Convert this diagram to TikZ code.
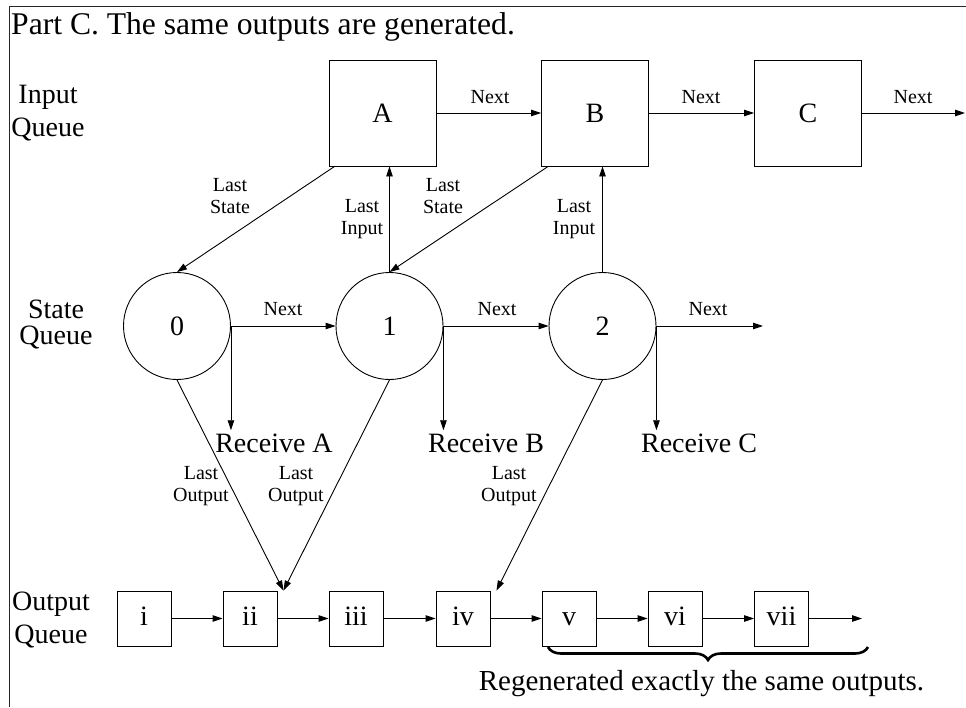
\documentclass[tikz,border=0pt]{standalone}
\usepackage{fontspec}
\setmainfont{Liberation Serif}
\usetikzlibrary{arrows.meta,calc,decorations.pathreplacing}

\begin{document}
\begin{tikzpicture}[x=1pt,y=-1pt,
  big/.style={font=\fontsize{28}{33}\selectfont},
  lbl/.style={font=\fontsize{20}{22}\selectfont, align=center, inner sep=0pt},
  qlabel/.style={align=center, inner sep=0pt},
  inbox/.style={draw, line width=0.9pt, minimum width=107pt, minimum height=106pt, inner sep=0pt, big},
  statenode/.style={draw, circle, line width=0.9pt, minimum size=107pt, inner sep=0pt, big},
  outbox/.style={draw, line width=0.9pt, minimum width=54pt, minimum height=55pt, inner sep=0pt, big, text height=13pt, text depth=0pt},
  recv/.style={big, inner sep=3pt, anchor=base},
  link/.style={line width=0.9pt, -{Triangle[length=10pt,width=6.5pt]}},
  plainline/.style={line width=0.9pt}
]
\useasboundingbox (0,0) rectangle (966,707);

% frame edges
\draw[line width=0.8pt, black!85] (9,707) -- (9,6) -- (966,6);

% title
\node[font=\fontsize{31.6}{36}\selectfont, anchor=base west, inner sep=0pt] (title) at (11,34) {Part C. The same outputs are generated.};

% row labels
\node[qlabel, font=\fontsize{28}{33}\selectfont] (lin) at (48,113) {Input\\Queue};
\node[qlabel, font=\fontsize{28}{26}\selectfont] (lst) at (56,324) {State\\Queue};
\node[qlabel, font=\fontsize{28}{33}\selectfont] (lout) at (51,620) {Output\\Queue};

% input queue
\node[inbox] (A) at (382.5,113) {A};
\node[inbox] (B) at (595,113) {B};
\node[inbox] (C) at (808,113) {C};
\coordinate (Cend) at (965,113);

\draw[link] (A) -- (B);
\draw[link] (B) -- (C);
\draw[link] (C) -- (Cend);
\node[lbl, anchor=base] (nAB) at (490,103) {Next};
\node[lbl, anchor=base] (nBC) at (701,103) {Next};
\node[lbl, anchor=base] (nC) at (913,103) {Next};

% state queue
\node[statenode] (s0) at (177,326) {0};
\node[statenode] (s1) at (389.5,326) {1};
\node[statenode] (s2) at (602.5,326) {2};
\coordinate (s2end) at (763,326);

\draw[link] (s0) -- (s1);
\draw[link] (s1) -- (s2);
\draw[link] (s2) -- (s2end);
\node[lbl, anchor=base] (n01) at (283,315) {Next};
\node[lbl, anchor=base] (n12) at (497,315) {Next};
\node[lbl, anchor=base] (n2) at (708,315) {Next};

% receive actions
\node[recv] (rA) at (274,452) {Receive A};
\node[recv] (rB) at (486,452) {Receive B};
\node[recv] (rC) at (699,452) {Receive C};
\draw[link] (s0.east) -- (s0.east |- rA.north);
\draw[link] (s1.east) -- (s1.east |- rB.north);
\draw[link] (s2.east) -- (s2.east |- rC.north);

% last state / last input pointers
\draw[link] ($(A.south west)+(6,0)$) -- (s0.north);
\draw[link] ($(B.south west)+(7,0)$) -- (s1.north);
\draw[link] (s1.north) -- (s1.north |- A.south);
\draw[link] (s2.north) -- (s2.north |- B.south);
\node[lbl] (lsA) at (230,196) {Last\\State};
\node[lbl] (lsB) at (443,196) {Last\\State};
\node[lbl] (liA) at (362,219.5) {Last\\Input};
\node[lbl] (liB) at (574,219.5) {Last\\Input};

% output queue
\node[outbox] (o1) at (144,618.5) {i};
\node[outbox] (o2) at (250,618.5) {ii};
\node[outbox] (o3) at (356,618.5) {iii};
\node[outbox] (o4) at (463,618.5) {iv};
\node[outbox] (o5) at (569,618.5) {v};
\node[outbox] (o6) at (675,618.5) {vi};
\node[outbox] (o7) at (781.5,618.5) {vii};
\coordinate (o7end) at (862,618.5);

\draw[link] (o1) -- (o2);
\draw[link] (o2) -- (o3);
\draw[link] (o3) -- (o4);
\draw[link] (o4) -- (o5);
\draw[link] (o5) -- (o6);
\draw[link] (o6) -- (o7);
\draw[link] (o7) -- (o7end);

% last output pointers
\coordinate (p2) at ($(o2.north east)+(6,0)$);
\coordinate (p4) at ($(o4.north east)+(6,0)$);
\draw[link] (s0.south) -- (p2);
\draw[link] (s1.south) -- (p2);
\draw[link] (s2.south) -- (p4);
\node[lbl] (lo0) at (201,486) {Last\\Output};
\node[lbl] (lo1) at (296,486) {Last\\Output};
\node[lbl] (lo2) at (509,486) {Last\\Output};

% brace over the regenerated outputs
\coordinate (brL) at (548,647);
\coordinate (brR) at (868,647);
\draw[line width=2.6pt, decorate, decoration={brace, mirror, amplitude=13pt}] (brL) -- (brR);
\node[font=\fontsize{29}{34}\selectfont, anchor=base, inner sep=0pt] (regen) at (701.5,690) {Regenerated exactly the same outputs.};

\end{tikzpicture}
\end{document}
